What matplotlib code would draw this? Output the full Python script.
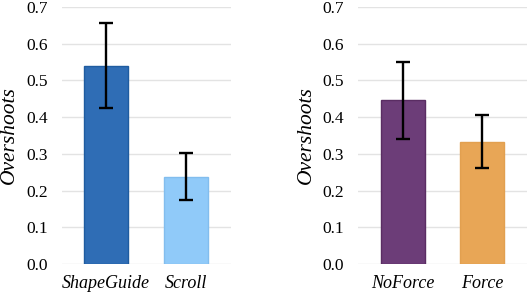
import matplotlib
matplotlib.use("Agg")
import matplotlib.pyplot as plt

plt.rcParams['font.family'] = ['Liberation Serif', 'DejaVu Serif']

# 左图数据
labels_a = ['ShapeGuide', 'Scroll']
means_a = [0.539, 0.237]
err_lo_a = [0.425, 0.173]
err_hi_a = [0.656, 0.301]
colors_a = ['#2F6DB5', '#90CAF9']
edges_a = ['#1F5CA0', '#82BDEE']

# 右图数据
labels_b = ['NoForce', 'Force']
means_b = [0.446, 0.333]
err_lo_b = [0.340, 0.260]
err_hi_b = [0.551, 0.405]
colors_b = ['#6C3D78', '#E8A656']
edges_b = ['#5A2D63', '#E2A050']

yticks = [0.0, 0.1, 0.2, 0.3, 0.4, 0.5, 0.6, 0.7]

fig = plt.figure(figsize=(5.29, 2.94), dpi=100)
ax1 = fig.add_axes([0.117, 0.102, 0.320, 0.875])
ax2 = fig.add_axes([0.677, 0.102, 0.319, 0.875])


def draw(ax, labels, means, lo, hi, colors, edges, xlim, label_x):
    x = list(range(len(labels)))
    yerr = [[m - l for m, l in zip(means, lo)], [h - m for m, h in zip(means, hi)]]
    ax.bar(x, means, width=0.55, color=colors, edgecolor=edges, linewidth=1, zorder=2)
    ax.errorbar(x, means, yerr=yerr, fmt='none', ecolor='black', elinewidth=1.7,
                capsize=4.8, capthick=1.7, zorder=3)
    ax.set_ylim(0, 0.7)
    ax.set_xlim(*xlim)
    ax.set_yticks(yticks)
    ax.set_yticklabels([f"{t:.1f}" for t in yticks], fontsize=12.5)
    ax.set_xticks(x)
    ax.set_xticklabels(labels, fontsize=13, style='italic')
    ax.set_ylabel("Overshoots", fontsize=15.5, style='italic')
    ax.yaxis.set_label_coords(label_x, 0.5)
    ax.grid(axis='y', color='#E3E3E3', linewidth=1, zorder=0)
    ax.set_axisbelow(True)
    for s in ax.spines.values():
        s.set_visible(False)
    ax.tick_params(axis='y', length=0, pad=10)
    ax.tick_params(axis='x', length=0, pad=8)


draw(ax1, labels_a, means_a, err_lo_a, err_hi_a, colors_a, edges_a, (-0.55, 1.56), -0.255)
draw(ax2, labels_b, means_b, err_lo_b, err_hi_b, colors_b, edges_b, (-0.556, 1.556), -0.25)

plt.savefig("out.png", dpi=100)
